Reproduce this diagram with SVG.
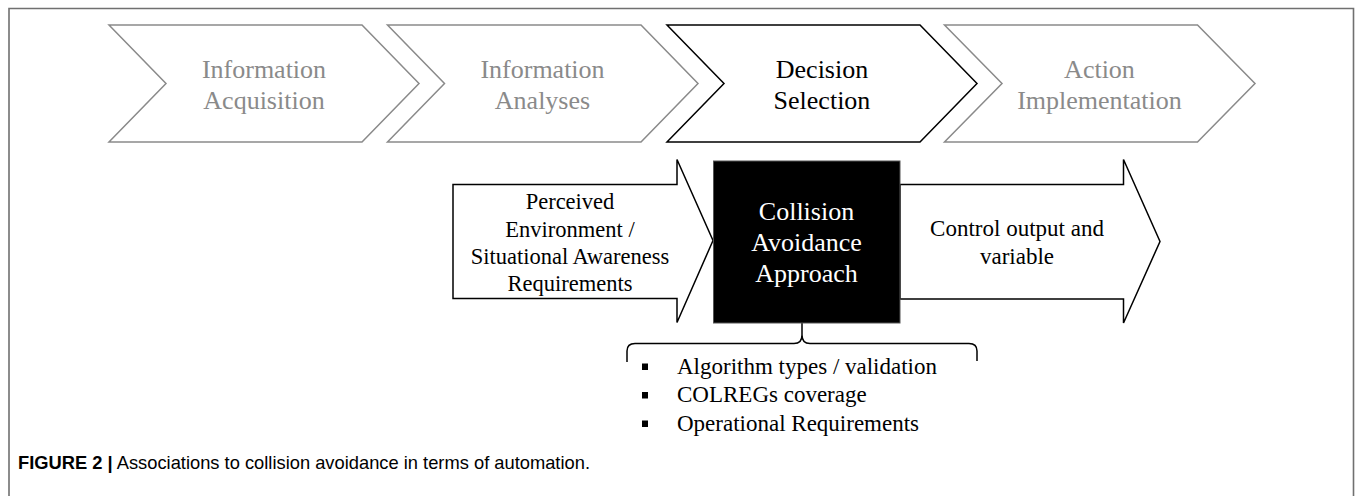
<svg xmlns="http://www.w3.org/2000/svg" width="1355" height="496" viewBox="0 0 1355 496">
<style>
.chev{fill:#fff;stroke:#8a8a8a;stroke-width:1.5;stroke-linejoin:miter}
.chev.active{stroke:#000}
.t{font-family:'Liberation Serif','Times New Roman','DejaVu Serif',serif;text-anchor:middle}
.big{font-size:26px}
.mid{font-size:22.5px}
.gray{fill:#8a8a8a}
.blk{fill:#000}
.arrow{fill:#fff;stroke:#000;stroke-width:1.5}
.cap{font-family:'Liberation Sans',Arial,sans-serif;font-size:19px;fill:#000}
</style>
<rect x="0" y="0" width="1355" height="496" fill="#fff"/>
<path d="M9 496 V8.5 H1353.5 V496" fill="none" stroke="#707070" stroke-width="1.6"/>

<g id="stage-acquisition">
<polygon class="chev" points="109,25 362,25 419,83.5 362,142 109,142 166,83.5"/>
<text class="t big gray" font-family="Liberation Serif, serif" x="264" y="78">Information</text>
<text class="t big gray" font-family="Liberation Serif, serif" x="264" y="109">Acquisition</text>
</g>
<g id="stage-analyses">
<polygon class="chev" points="387.5,25 641,25 698,83.5 641,142 387.5,142 444.5,83.5"/>
<text class="t big gray" x="542.5" y="78">Information</text>
<text class="t big gray" x="542.5" y="109">Analyses</text>
</g>
<g id="stage-decision">
<polygon class="chev active" points="667,25 920,25 977,83.5 920,142 667,142 724,83.5"/>
<text class="t big blk" x="822" y="78">Decision</text>
<text class="t big blk" x="822" y="109">Selection</text>
</g>
<g id="stage-action">
<polygon class="chev" points="944.5,25 1197.5,25 1255,83.5 1197.5,142 944.5,142 1002,83.5"/>
<text class="t big gray" x="1099.5" y="78">Action</text>
<text class="t big gray" x="1099.5" y="109">Implementation</text>
</g>

<g id="connectors">
<g id="input-arrow">
<polygon class="arrow" points="453,184.5 677,184.5 677,159.5 713,240.5 677,322.5 677,298.5 453,298.5"/>
<text class="t mid blk" x="570" y="209">Perceived</text>
<text class="t mid blk" x="570" y="237">Environment /</text>
<text class="t mid blk" x="570" y="264">Situational Awareness</text>
<text class="t mid blk" x="570" y="291">Requirements</text>
</g>
<g id="output-arrow">
<polygon class="arrow" points="900,184.5 1123.5,184.5 1123.5,159.5 1160,241.5 1123.5,323 1123.5,299 900,299"/>
<text class="t blk" font-size="23" x="1017" y="236">Control output and</text>
<text class="t blk" font-size="23" x="1017" y="264">variable</text>
</g>
<path id="brace" d="M627 362 V351 Q627 343.5 635 343.5 H794 Q802 343.5 802 335 V323 M802 335 Q802 343.5 810 343.5 H969 Q977 343.5 977 351 V361" fill="none" stroke="#000" stroke-width="1.5"/>
</g>

<g id="collision-box">
<rect x="713.5" y="161" width="186.5" height="162" fill="#000" stroke="#555" stroke-width="1"/>
<text class="t big" fill="#fff" x="806.5" y="220">Collision</text>
<text class="t big" fill="#fff" x="806.5" y="251">Avoidance</text>
<text class="t big" fill="#fff" x="806.5" y="282">Approach</text>
</g>

<g id="aspects">
<rect x="642" y="363.5" width="6" height="6.5" fill="#000"/>
<rect x="642" y="392" width="6" height="6.5" fill="#000"/>
<rect x="642" y="420.5" width="6" height="6.5" fill="#000"/>
<text class="t blk" font-size="23" style="text-anchor:start" x="677" y="373.5">Algorithm types / validation</text>
<text class="t blk" font-size="23" style="text-anchor:start" x="677" y="402">COLREGs coverage</text>
<text class="t blk" font-size="23" style="text-anchor:start" x="677" y="430.5">Operational Requirements</text>
</g>

<g id="caption">
<text class="cap" x="18" y="469" textLength="572" lengthAdjust="spacingAndGlyphs"><tspan font-weight="bold">FIGURE 2 |</tspan> Associations to collision avoidance in terms of automation.</text>
</g>
</svg>
